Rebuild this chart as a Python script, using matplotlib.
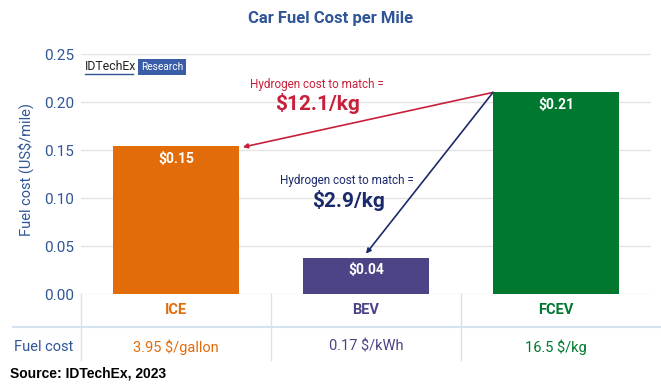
import matplotlib
matplotlib.use("Agg")
import matplotlib.pyplot as plt
from matplotlib import transforms
from matplotlib.lines import Line2D

plt.rcParams["font.family"] = ["Roboto", "DejaVu Sans"]

# Data
categories = ["ICE", "BEV", "FCEV"]
cost_per_mile = [0.154, 0.038, 0.210]
bar_labels = ["$0.15", "$0.04", "$0.21"]
fuel_costs = ["3.95 $/gallon", "0.17 $/kWh", "16.5 $/kg"]
h2_match = ["$12.1/kg", "$2.9/kg"]
yticks = [0.00, 0.05, 0.10, 0.15, 0.20, 0.25]

colors = ["#E36C0A", "#4B4587", "#00782F"]
blue = "#2F5597"
red = "#C8203A"
navy = "#1B2A6B"
line_col = "#D5E3F0"

fig = plt.figure(figsize=(6.61, 3.9), dpi=100)
ax = fig.add_axes([81 / 661, 96 / 390, 570 / 661, 240 / 390])

x = range(len(categories))
w = 0.663
ax.bar(x, cost_per_mile, width=w, color=colors, zorder=2)
for i, (v, lab) in enumerate(zip(cost_per_mile, bar_labels)):
    ax.text(i, v - 0.006, lab, ha="center", va="top", color="white",
            fontsize=10, fontweight="bold", zorder=3)

ax.set_xlim(-0.5, 2.5)
ax.set_ylim(0, 0.25)
ax.set_yticks(yticks)
ax.set_yticklabels([f"{t:.2f}" for t in yticks], color=blue, fontsize=11)
ax.set_xticks([])
ax.tick_params(axis="y", length=0, pad=5)
ax.grid(axis="y", color="#E4E4E4", lw=1, zorder=0)
for s in ax.spines.values():
    s.set_visible(False)
fig.text(26 / 661, 220 / 390, "Fuel cost (US$/mile)", color=blue, fontsize=10.5,
         rotation=90, ha="center", va="center")

# arrows from the FCEV bar corner
start = (2 - w / 2, cost_per_mile[2])
ax.annotate("", xy=(0 + w / 2 + 0.02, cost_per_mile[0] - 0.001), xytext=start,
            arrowprops=dict(arrowstyle="-|>", color=red, lw=1.2,
                            mutation_scale=7, shrinkA=0, shrinkB=0), zorder=4)
ax.annotate("", xy=(1, cost_per_mile[1] + 0.004), xytext=start,
            arrowprops=dict(arrowstyle="-|>", color=navy, lw=1.2,
                            mutation_scale=7, shrinkA=0, shrinkB=0), zorder=4)

ax.text(0.74, 0.2185, "Hydrogen cost to match =", color=red, fontsize=8.5,
        ha="center", va="center")
ax.text(0.745, 0.1985, h2_match[0], color=red, fontsize=15, fontweight="bold",
        ha="center", va="center")
ax.text(0.9, 0.118, "Hydrogen cost to match =", color=navy, fontsize=8.5,
        ha="center", va="center")
ax.text(0.91, 0.0975, h2_match[1], color=navy, fontsize=15, fontweight="bold",
        ha="center", va="center")

# table under the chart
tr = transforms.blended_transform_factory(ax.transData, fig.transFigure)
for xv in [-0.5, 0.5, 1.5]:
    fig.add_artist(Line2D([xv, xv], [96 / 390, 30 / 390], transform=tr,
                          color=line_col, lw=1))
fig.add_artist(Line2D([13 / 661, 1.0], [63 / 390, 63 / 390],
                      transform=fig.transFigure, color=line_col, lw=1.5))
for i, (cat, fc) in enumerate(zip(categories, fuel_costs)):
    fig.text(i, 80 / 390, cat, transform=tr, ha="center", va="center",
             color=colors[i], fontsize=10.5, fontweight="bold")
    fig.text(i, 43 / 390, fc, transform=tr, ha="center", va="center",
             color=colors[i], fontsize=10.5)
fig.text(14 / 661, 43 / 390, "Fuel cost", ha="left", va="center",
         color=blue, fontsize=10.5)

# title
fig.text(331 / 661, 371 / 390, "Car Fuel Cost per Mile", ha="center",
         va="center", color=blue, fontsize=12, fontweight="bold")

# logo
fig.text(85 / 661, 323 / 390, "IDTechEx", ha="left", va="center",
         color="#222222", fontsize=8.8)
fig.add_artist(Line2D([85 / 661, 133 / 661], [316 / 390, 316 / 390],
                      transform=fig.transFigure, color=blue, lw=1))
fig.text(141 / 661, 323 / 390, "Research", ha="left", va="center",
         color="white", fontsize=7.3,
         bbox=dict(boxstyle="square,pad=0.25", fc="#3A5DA8", ec="none"))

# source
fig.text(10 / 661, 17 / 390, "Source: IDTechEx, 2023", ha="left", va="center",
         color="black", fontsize=10, fontweight="bold",
         family=["Liberation Sans Narrow", "Liberation Sans", "DejaVu Sans"])

fig.savefig("out.png", dpi=100)
